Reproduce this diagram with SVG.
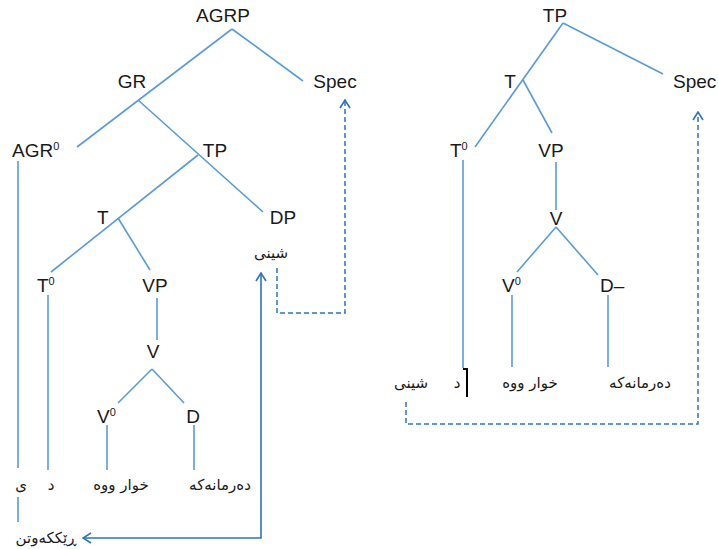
<svg xmlns="http://www.w3.org/2000/svg" width="718" height="549" viewBox="0 0 718 549">
<defs>
<style>
.lbl{font-family:"Liberation Sans",Arial,sans-serif;font-size:19px;fill:#1a1a1a;}
.sup{font-size:11px;}
.ar{font-family:"DejaVu Sans","Noto Sans",sans-serif;font-size:15px;fill:#1a1a1a;}
.br{stroke:#5b9bd5;stroke-width:1.6;fill:none;}
.ar-line{stroke:#2e75b6;stroke-width:1.6;fill:none;}
.dash{stroke:#2e75b6;stroke-width:1.5;fill:none;stroke-dasharray:5,3;}
</style>
<marker id="chev" viewBox="0 0 10 12" refX="9" refY="6" markerWidth="10" markerHeight="12" markerUnits="userSpaceOnUse" orient="auto-start-reverse">
<path d="M1,1 L9,6 L1,11" fill="none" stroke="#2e75b6" stroke-width="1.6"/>
</marker>
</defs>
<rect width="718" height="549" fill="#fff"/>

<g id="connectors">
<line class="br" x1="232" y1="29" x2="77" y2="147"/>
<line class="br" x1="232" y1="29" x2="303" y2="81"/>
<line class="br" x1="138" y1="100" x2="263" y2="212"/>
<line class="br" x1="198" y1="155" x2="51" y2="272"/>
<line class="br" x1="118" y1="218" x2="150" y2="270"/>
<line class="br" x1="18" y1="161" x2="18" y2="468"/>
<line class="br" x1="18" y1="497" x2="18" y2="522"/>
<line class="br" x1="48" y1="295" x2="48" y2="470"/>
<line class="br" x1="157" y1="298" x2="157" y2="340"/>
<line class="br" x1="152" y1="369" x2="118" y2="403"/>
<line class="br" x1="152" y1="369" x2="184" y2="403"/>
<line class="br" x1="107" y1="425" x2="107" y2="470"/>
<line class="br" x1="194" y1="425" x2="194" y2="470"/>
<path class="ar-line" d="M83,538 H261 V273" marker-start="url(#chev)" marker-end="url(#chev)"/>
<path class="dash" d="M277,268 V313 H345 V100" marker-end="url(#chev)"/>
<line class="br" x1="563" y1="23" x2="475" y2="147"/>
<line class="br" x1="563" y1="23" x2="663" y2="74"/>
<line class="br" x1="523" y1="80" x2="552" y2="133"/>
<line class="br" x1="463" y1="160" x2="463" y2="368"/>
<path d="M463,369 H467 V397" fill="none" stroke="#000" stroke-width="2"/>
<line class="br" x1="556" y1="162" x2="556" y2="210"/>
<line class="br" x1="556" y1="227" x2="517" y2="272"/>
<line class="br" x1="556" y1="227" x2="598" y2="275"/>
<line class="br" x1="512" y1="295" x2="512" y2="367"/>
<line class="br" x1="608" y1="295" x2="608" y2="367"/>
<path class="dash" d="M406,402 V424 H698 V112" marker-end="url(#chev)"/>
</g>

<g id="L-AGRP"><text class="lbl" x="223" y="22" text-anchor="middle">AGRP</text></g>
<g id="L-GR"><text class="lbl" x="132" y="88" text-anchor="middle">GR</text></g>
<g id="L-Spec"><text class="lbl" x="335" y="88" text-anchor="middle">Spec</text></g>
<g id="L-AGR0"><text class="lbl" x="12" y="157">AGR<tspan class="sup" dy="-7">0</tspan></text></g>
<g id="L-TP"><text class="lbl" x="215" y="157" text-anchor="middle">TP</text></g>
<g id="L-T"><text class="lbl" x="97" y="224">T</text></g>
<g id="L-DP"><text class="lbl" x="283" y="224" text-anchor="middle">DP</text></g>
<g id="L-T0"><text class="lbl" x="37" y="292">T<tspan class="sup" dy="-7">0</tspan></text></g>
<g id="L-VP"><text class="lbl" x="155" y="292" text-anchor="middle">VP</text></g>
<g id="L-V"><text class="lbl" x="153" y="358" text-anchor="middle">V</text></g>
<g id="L-V0"><text class="lbl" x="97" y="423">V<tspan class="sup" dy="-7">0</tspan></text></g>
<g id="L-D"><text class="lbl" x="193" y="423" text-anchor="middle">D</text></g>
<g id="L-shini"><text class="ar" x="271" y="258" text-anchor="middle" direction="rtl">شینی</text></g>
<g id="L-y"><text class="ar" x="21" y="490" text-anchor="middle" direction="rtl">ی</text></g>
<g id="L-d"><text class="ar" x="51" y="490" text-anchor="middle" direction="rtl">د</text></g>
<g id="L-xward"><text class="ar" x="121" y="490" text-anchor="middle" direction="rtl">خوار ووه</text></g>
<g id="L-derman"><text class="ar" x="220" y="490" text-anchor="middle" direction="rtl">دەرمانەکە</text></g>
<g id="L-rek"><text class="ar" x="46" y="543" text-anchor="middle" direction="rtl">ڕێککەوتن</text></g>

<g id="R-TP"><text class="lbl" x="555" y="22" text-anchor="middle">TP</text></g>
<g id="R-T"><text class="lbl" x="510" y="88" text-anchor="middle">T</text></g>
<g id="R-Spec"><text class="lbl" x="673" y="88">Spec</text></g>
<g id="R-T0"><text class="lbl" x="450" y="157">T<tspan class="sup" dy="-7">0</tspan></text></g>
<g id="R-VP"><text class="lbl" x="551" y="157" text-anchor="middle">VP</text></g>
<g id="R-V"><text class="lbl" x="556" y="225" text-anchor="middle">V</text></g>
<g id="R-V0"><text class="lbl" x="502" y="292">V<tspan class="sup" dy="-7">0</tspan></text></g>
<g id="R-D"><text class="lbl" x="600" y="292">D–</text></g>
<g id="R-shini"><text class="ar" x="411" y="388" text-anchor="middle" direction="rtl">شینی</text></g>
<g id="R-d"><text class="ar" x="457" y="388" text-anchor="middle" direction="rtl">د</text></g>
<g id="R-xward"><text class="ar" x="530" y="388" text-anchor="middle" direction="rtl">خوار ووه</text></g>
<g id="R-derman"><text class="ar" x="640" y="388" text-anchor="middle" direction="rtl">دەرمانەکە</text></g>
</svg>
